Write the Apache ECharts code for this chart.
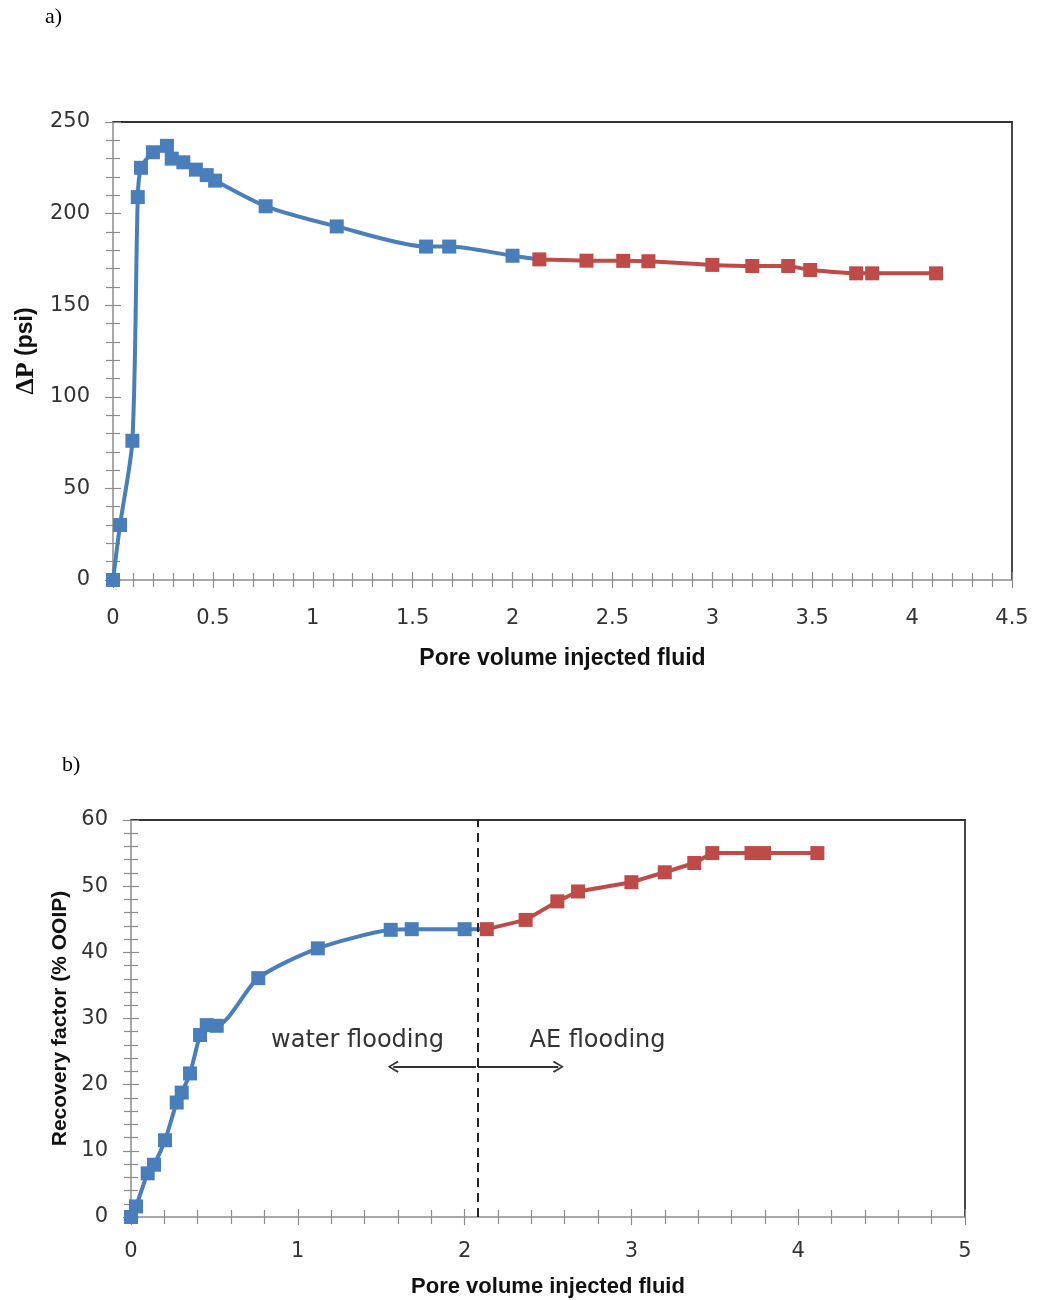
<!DOCTYPE html>
<html>
<head>
<meta charset="utf-8">
<script src="https://cdn.jsdelivr.net/npm/echarts/dist/echarts.min.js"></script>
<style>
  html, body { margin: 0; padding: 0; background: #fff; }
  #chart { width: 1038px; height: 1300px; }
</style>
</head>
<body>
<div id="chart"></div>
<script>
// a) pressure drop
const waterPV = [0, 0.035, 0.097, 0.124, 0.14, 0.2, 0.27, 0.294, 0.352, 0.415, 0.469, 0.511, 0.764, 1.12, 1.567, 1.683, 2.0];
const waterDP = [0, 30, 76, 209, 225, 233.5, 237, 230, 228, 224, 221, 218, 204, 193, 182, 182, 177];
const aePV = [2.134, 2.37, 2.554, 2.68, 3.0, 3.2, 3.38, 3.49, 3.72, 3.8, 4.12];
const aeDP = [175, 174.3, 174.2, 174, 172, 171.4, 171.4, 169.2, 167.4, 167.4, 167.4];

// b) recovery factor
const waterPV2 = [0, 0.03, 0.1, 0.138, 0.204, 0.274, 0.304, 0.354, 0.414, 0.454, 0.514, 0.763, 1.12, 1.557, 1.683, 2.0];
const waterRF = [0, 1.6, 6.6, 7.9, 11.6, 17.3, 18.8, 21.7, 27.5, 29.0, 28.9, 36.1, 40.6, 43.4, 43.5, 43.5];
const aePV2 = [2.133, 2.366, 2.556, 2.68, 3.0, 3.2, 3.377, 3.485, 3.72, 3.795, 4.115];
const aeRF = [43.5, 44.9, 47.7, 49.2, 50.6, 52.1, 53.5, 55, 55, 55, 55];

const switchPV = 2.08;
const arrowY = 22.7;
const arrowLeftEnd = 1.572, arrowRightEnd = 2.562;

const blue = '#4a7ebb', red = '#be4b48';
const gray = '#8c8c8c', dark = '#333';
const chevron = 'path://M5,0 L10,8 L8.8,9 L5,2.4 L1.2,9 L0,8 Z';

function zip(xs, ys) {
  return xs.map((x, i) => [x, ys[i]]);
}
// water series carries on to the first AE point so the joint stays blue
function joined(xs, ys, nx, ny) {
  return zip(xs, ys).concat([{ value: [nx, ny], symbol: 'none' }]);
}

const labelFont = { fontFamily: 'DejaVu Sans', fontSize: 21, color: '#333' };
const titleFont = { fontFamily: 'Liberation Sans', fontSize: 23, fontWeight: 'bold', color: '#111' };

// main axis (labels + outside ticks), inner ticks, border on far side
function axesFor(grid, min, max, interval, side, far, name, nameGap, margin) {
  return [
    {
      type: 'value', gridIndex: grid, min: min, max: max, interval: interval, position: side,
      axisLine: { onZero: false, lineStyle: { color: gray, width: 1.5 } },
      axisTick: { length: 8, lineStyle: { color: gray, width: 1.2 } },
      minorTick: { show: true, splitNumber: 5, length: 7, lineStyle: { color: gray, width: 1.2 } },
      axisLabel: Object.assign({ margin: margin }, labelFont),
      splitLine: { show: false },
      name: name, nameLocation: 'middle', nameGap: nameGap, nameTextStyle: titleFont
    },
    {
      type: 'value', gridIndex: grid, min: min, max: max, interval: interval, position: side,
      axisLine: { show: false, onZero: false },
      axisTick: { inside: true, length: 8, lineStyle: { color: gray, width: 1.2 } },
      minorTick: { show: true, splitNumber: 5, length: 7, lineStyle: { color: gray, width: 1.2 } },
      axisLabel: { show: false }, splitLine: { show: false }
    },
    {
      type: 'value', gridIndex: grid, min: min, max: max, interval: interval, position: far,
      axisLine: { onZero: false, lineStyle: { color: dark, width: 1.8 } },
      axisTick: { show: false }, axisLabel: { show: false }, splitLine: { show: false }
    }
  ];
}

const xTop = axesFor(0, 0, 4.5, 0.5, 'bottom', 'top', 'Pore volume injected fluid', 67, 28);
const yTop = axesFor(0, 0, 250, 50, 'left', 'right', '{s|ΔP} (psi)', 71, 23);
yTop[0].nameTextStyle = Object.assign({}, titleFont, {
  fontSize: 23,
  rich: { s: { fontFamily: 'Liberation Serif', fontSize: 26, fontWeight: 'bold', color: '#111' } }
});
const xBot = axesFor(1, 0, 5, 1, 'bottom', 'top', 'Pore volume injected fluid', 59, 24);
xBot[0].nameTextStyle = Object.assign({}, titleFont, { fontSize: 22 });
const yBot = axesFor(1, 0, 60, 10, 'left', 'right', 'Recovery factor (% OOIP)', 58, 23);
yBot[0].nameTextStyle = Object.assign({}, titleFont, { fontSize: 21 });

function lineSeries(xi, yi, data, color, smooth) {
  return {
    type: 'line', xAxisIndex: xi, yAxisIndex: yi, data: data,
    symbol: 'rect', symbolSize: 14, smooth: smooth,
    lineStyle: { color: color, width: 4 }, itemStyle: { color: color },
    clip: false
  };
}

const seriesWaterTop = lineSeries(0, 0, joined(waterPV, waterDP, aePV[0], aeDP[0]), blue, 0.25);
const seriesAeTop = lineSeries(0, 0, zip(aePV, aeDP), red, 0.15);
const seriesWaterBot = lineSeries(3, 3, joined(waterPV2, waterRF, aePV2[0], aeRF[0]), blue, 0.25);
const seriesAeBot = lineSeries(3, 3, zip(aePV2, aeRF), red, false);

seriesWaterBot.markLine = {
  silent: true, symbol: ['none', chevron], symbolSize: [12, 11],
  label: { show: false },
  lineStyle: { color: dark, width: 1.8, type: 'solid' },
  data: [
    [{ coord: [switchPV - 0.012, arrowY] }, { coord: [arrowLeftEnd, arrowY] }],
    [{ coord: [switchPV, arrowY] }, { coord: [arrowRightEnd, arrowY] }]
  ]
};
seriesAeBot.markLine = {
  silent: true, symbol: ['none', 'none'],
  label: { show: false },
  lineStyle: { color: '#222', width: 2, type: [9, 6] },
  data: [{ xAxis: switchPV }]
};

const chart = echarts.init(document.getElementById('chart'));
chart.setOption({
  animation: false,
  backgroundColor: '#fff',
  grid: [
    { left: 113, top: 122, width: 899, height: 458 },
    { left: 131, top: 820, width: 834, height: 397 }
  ],
  xAxis: xTop.concat(xBot),
  yAxis: yTop.concat(yBot),
  series: [seriesWaterTop, seriesAeTop, seriesWaterBot, seriesAeBot]
});

const pWater = chart.convertToPixel({ xAxisIndex: 3, yAxisIndex: 3 }, [1.358, 26.7]);
const pAe = chart.convertToPixel({ xAxisIndex: 3, yAxisIndex: 3 }, [2.797, 26.7]);
const noteFont = { fontFamily: 'DejaVu Sans', fontSize: 24, fill: '#333', align: 'center', verticalAlign: 'middle' };
const panelFont = { fontFamily: 'Liberation Serif', fontSize: 22, fill: '#000', verticalAlign: 'middle' };
chart.setOption({
  graphic: [
    { type: 'text', left: 45, top: 6, style: Object.assign({ text: 'a)' }, panelFont) },
    { type: 'text', left: 62, top: 754, style: Object.assign({ text: 'b)' }, panelFont) },
    { type: 'text', x: pWater[0], y: pWater[1], style: Object.assign({ text: 'water flooding' }, noteFont) },
    { type: 'text', x: pAe[0], y: pAe[1], style: Object.assign({ text: 'AE flooding' }, noteFont) }
  ]
});
</script>
</body>
</html>
